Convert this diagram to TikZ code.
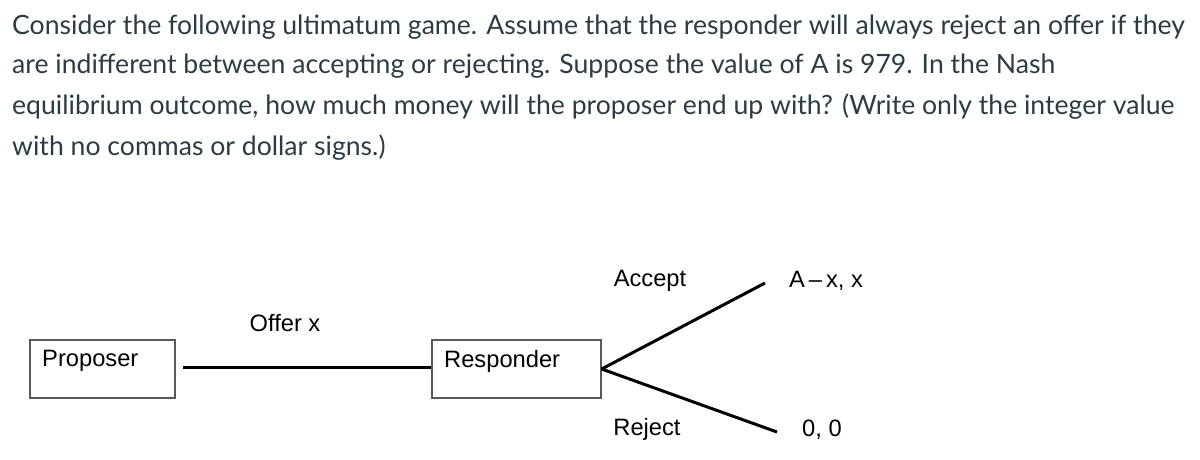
\documentclass[tikz,border=0pt]{standalone}
\usepackage{fontspec}
\setmainfont{Lato}
\newfontfamily\diagfont{Liberation Sans}
\definecolor{canvastext}{HTML}{2D3B45}
\begin{document}
\begin{tikzpicture}[x=1pt,y=-1pt,
  qline/.style={anchor=base west,inner sep=0pt,font=\fontsize{26.6}{30}\selectfont,text=canvastext},
  player/.style={draw=black!65,line width=1.3pt,minimum width=145pt,minimum height=58pt,inner sep=0pt},
  lbl/.style={inner sep=0pt,font=\diagfont\fontsize{23.7}{28}\selectfont},
  branch/.style={line width=3pt,black}]
\useasboundingbox (0,0) rectangle (1200,459);
\node[qline] (q1) at (12,34) {Consider the following ultimatum game. Assume that the responder will always reject an offer if they};
\node[qline] (q2) at (12,73) {are indifferent between accepting or rejecting. Suppose the value of A is 979. In the Nash};
\node[qline] (q3) at (12,114) {equilibrium outcome, how much money will the proposer end up with? (Write only the integer value};
\node[qline] (q4) at (12,155) {with no commas or dollar signs.)};
\node[player] (prop) at (102.5,369) {};
\node[lbl,anchor=west] (proptxt) at (42,361) {Proposer};
\node[player,minimum width=169pt] (resp) at (516.5,369) {};
\node[lbl,anchor=west] (resptxt) at (444,361) {Responder};
\coordinate (ls) at (183,367);
\coordinate (acc) at (765,283);
\coordinate (rej) at (777,432);
\draw[branch] (ls) -- (resp.west |- ls);
\draw[branch] (resp.east) -- (acc);
\draw[branch] (resp.east) -- (rej);
\node[lbl] (offer) at (285,323) {Offer x};
\node[lbl] (accept) at (650,281) {Accept};
\node[lbl] (reject) at (647,429) {Reject};
\node[lbl] (pay1) at (826,281) {A\,\textendash\,x, x};
\node[lbl] (pay2) at (822,430) {0, 0};
\end{tikzpicture}
\end{document}
